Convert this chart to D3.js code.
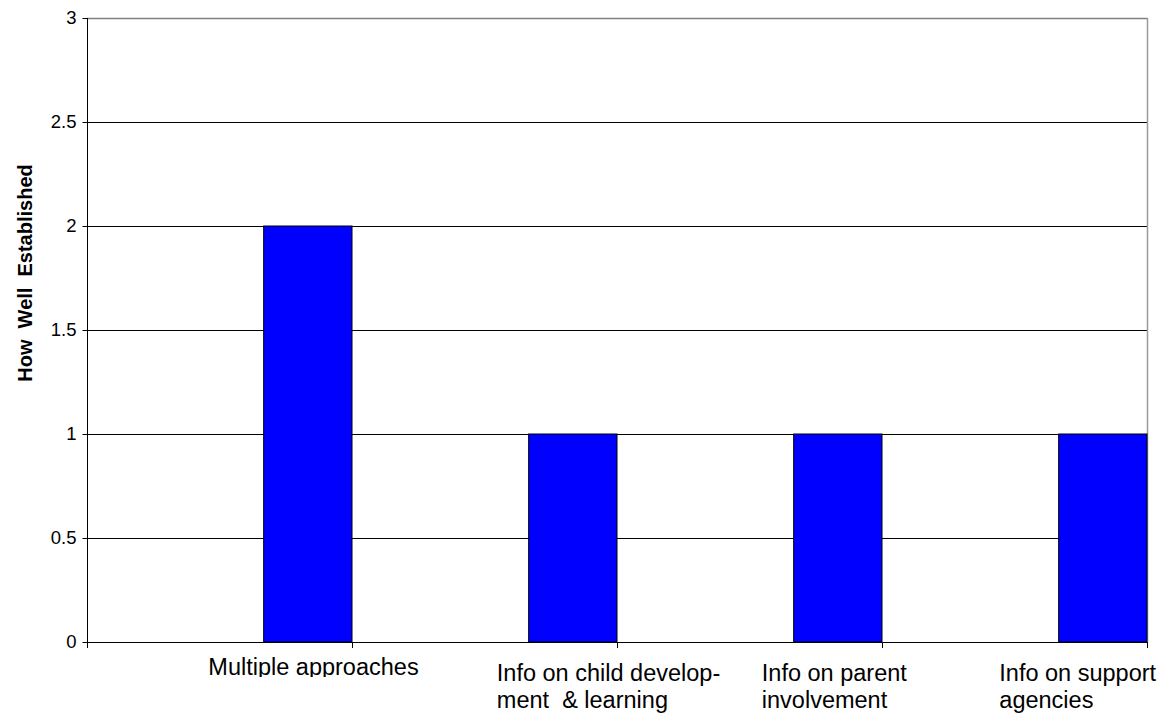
<!DOCTYPE html>
<html>
<head>
<meta charset="utf-8">
<script src="https://cdn.jsdelivr.net/npm/d3@7"></script>
<style>
  html, body { margin: 0; padding: 0; background: #fff; }
  svg { display: block; }
  text { font-family: Arial, "Liberation Sans", sans-serif; fill: #000; }
</style>
</head>
<body>
<svg id="chart" width="1169" height="713"></svg>
<script>
// ---- data ----
const categories = ["Multiple approaches", "Info on child development & learning", "Info on parent involvement", "Info on support agencies"];
const categoryLines = [["Multiple approaches"], ["Info on child develop-", "ment  & learning"], ["Info on parent", "involvement"], ["Info on support", "agencies"]];
const values = [2, 1, 1, 1];
const yTicks = [0, 0.5, 1, 1.5, 2, 2.5, 3];
const yTitle = "How  Well  Established";

// ---- layout ----
const W = 1169, H = 713;
const m = { left: 87, right: 1147, top: 18, bottom: 642 };
const labelDx = [-99.5, -76, -76, -103.5];   // label start offset from bar centre
const labelBaseline = [675, 681, 681, 681];

const svg = d3.select("#chart");

const x = d3.scaleBand().domain(categories).range([m.left, m.right]).paddingInner(0).paddingOuter(0);
const y = d3.scaleLinear().domain([0, 3]).range([m.bottom, m.top]);

// gridlines
svg.append("g").selectAll("line")
  .data(yTicks.filter(t => t > 0 && t < 3))
  .join("line")
  .attr("x1", m.left).attr("x2", m.right)
  .attr("y1", d => Math.round(y(d)) + 0.5).attr("y2", d => Math.round(y(d)) + 0.5)
  .attr("stroke", "#000").attr("stroke-width", 1);

// plot border top/right (gray)
svg.append("line").attr("x1", m.left).attr("x2", m.right + 0.5)
  .attr("y1", Math.round(y(3)) + 0.5).attr("y2", Math.round(y(3)) + 0.5)
  .attr("stroke", "#808080").attr("stroke-width", 1.5);
svg.append("line").attr("x1", m.right + 0.5).attr("x2", m.right + 0.5)
  .attr("y1", Math.round(y(3))).attr("y2", m.bottom)
  .attr("stroke", "#9a9a9a").attr("stroke-width", 1.5);

// bars
svg.append("g").selectAll("rect")
  .data(values)
  .join("rect")
  .attr("x", (d, i) => x(categories[i]) + x.bandwidth() * 2 / 3)
  .attr("width", x.bandwidth() / 3)
  .attr("y", d => y(d))
  .attr("height", d => y(0) - y(d))
  .attr("fill", "#0000ff")
  .attr("stroke", "#000")
  .attr("stroke-width", 1);

// y axis
const yAxis = d3.axisLeft(y).tickValues(yTicks).tickSize(5).tickPadding(6)
  .tickFormat(d => d3.format("")(d));
const gy = svg.append("g").attr("transform", `translate(${m.left + 0.5},0)`).call(yAxis);
gy.select(".domain").remove();
gy.selectAll(".tick line").attr("stroke", "#000");
gy.selectAll(".tick text").attr("font-size", "18.5px").attr("font-family", "Arial, 'Liberation Sans', sans-serif").attr("fill", "#000");
svg.append("line").attr("x1", m.left + 0.5).attr("x2", m.left + 0.5)
  .attr("y1", m.top).attr("y2", m.bottom + 0.5).attr("stroke", "#000");

// x axis
const bounds = categories.map(c => x(c)).concat([m.right]);
svg.append("line").attr("x1", m.left).attr("x2", m.right + 0.5)
  .attr("y1", m.bottom + 0.5).attr("y2", m.bottom + 0.5).attr("stroke", "#000");
svg.append("g").selectAll("line").data(bounds).join("line")
  .attr("x1", d => Math.round(d) + 0.5).attr("x2", d => Math.round(d) + 0.5)
  .attr("y1", m.bottom).attr("y2", m.bottom + 6).attr("stroke", "#000");

// clip for first label (descenders cut off in reference)
svg.append("defs").append("clipPath").attr("id", "clip0")
  .append("rect").attr("x", 0).attr("y", 0).attr("width", W).attr("height", 677);

// category labels
const lg = svg.append("g");
categoryLines.forEach((lines, i) => {
  const cx = x(categories[i]) + x.bandwidth() * 5 / 6;
  const t = lg.append("text")
    .attr("font-size", "23.5px")
    .attr("text-anchor", "start");
  if (i === 0) t.attr("clip-path", "url(#clip0)");
  lines.forEach((ln, j) => {
    t.append("tspan")
      .attr("x", cx + labelDx[i])
      .attr("y", labelBaseline[i] + j * 26.5)
      .attr("xml:space", "preserve")
      .style("white-space", "pre")
      .text(ln);
  });
});

// y title
svg.append("text")
  .attr("transform", `translate(32, ${(m.top + m.bottom) / 2 - 57}) rotate(-90)`)
  .attr("text-anchor", "middle")
  .attr("font-size", "20px")
  .attr("font-weight", "bold")
  .style("white-space", "pre")
  .text(yTitle);
</script>
</body>
</html>
